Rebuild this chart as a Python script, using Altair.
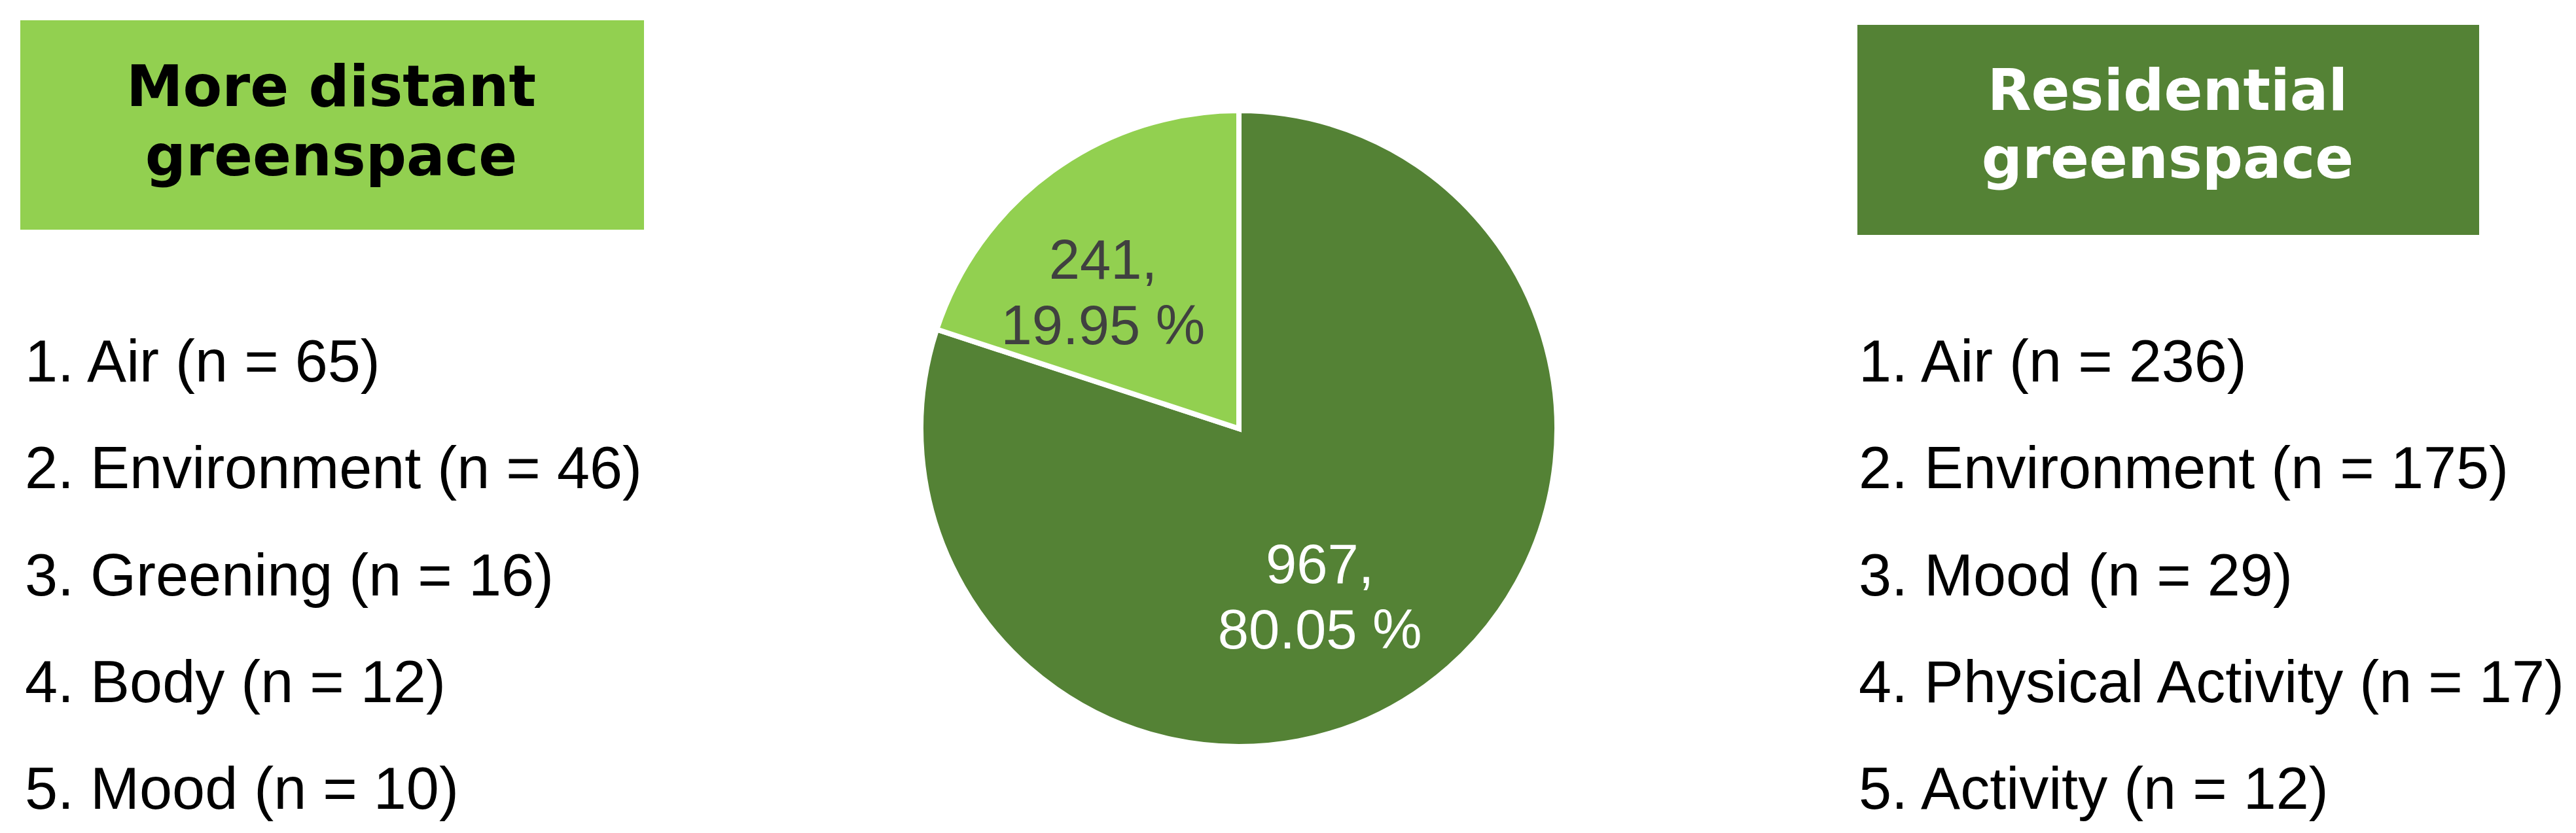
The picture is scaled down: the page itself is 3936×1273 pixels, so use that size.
import altair as alt
import pandas as pd

# ---- data ----
slice_labels = ["Residential greenspace", "More distant greenspace"]
slice_counts = [967, 241]
slice_pct = ["80.05 %", "19.95 %"]
slice_colors = ["#548235", "#92D050"]

left_title = "More distant\ngreenspace"
left_items = ["Air", "Environment", "Greening", "Body", "Mood"]
left_n = [65, 46, 16, 12, 10]

right_title = "Residential\ngreenspace"
right_items = ["Air", "Environment", "Mood", "Physical Activity", "Activity"]
right_n = [236, 175, 29, 17, 12]

# ---- tables ----
pie_df = pd.DataFrame({
    "group": slice_labels,
    "count": slice_counts,
    "pct": slice_pct,
    "idx": list(range(len(slice_labels))),
})
pie_df["label"] = [f"{c},\n{p}" for c, p in zip(slice_counts, slice_pct)]

left_df = pd.DataFrame({
    "rank": list(range(1, len(left_items) + 1)),
    "text": [f"{i}. {t} (n = {n})" for i, (t, n) in enumerate(zip(left_items, left_n), 1)],
})
right_df = pd.DataFrame({
    "rank": list(range(1, len(right_items) + 1)),
    "text": [f"{i}. {t} (n = {n})" for i, (t, n) in enumerate(zip(right_items, right_n), 1)],
})
left_title_df = pd.DataFrame({"title": [left_title]})
right_title_df = pd.DataFrame({"title": [right_title]})

W, H = 3920, 1257
CX, CY, R = 1885, 647, 486
LIST_FONT = "Liberation Sans"
TITLE_FONT = "DejaVu Sans"

color_scale = alt.Scale(domain=slice_labels, range=slice_colors)
rank_scale = alt.Scale(domain=[1, 5], range=[575, 1228])

# ---- pie ----
pie = alt.Chart(pie_df).mark_arc(radius=R, stroke="white", strokeWidth=8).encode(
    theta=alt.Theta("count:Q", stack=True),
    order=alt.Order("idx:Q"),
    color=alt.Color("group:N", scale=color_scale, legend=None),
    x=alt.value(CX),
    y=alt.value(CY),
)


def slice_label(group, radius, color, dx, dy):
    return (
        alt.Chart(pie_df)
        .transform_joinaggregate(total="sum(count)")
        .transform_window(cum="sum(count)", sort=[alt.SortField("idx")])
        .transform_calculate(mid="(datum.cum - datum.count / 2) / datum.total")
        .transform_filter(alt.datum.group == group)
        .mark_text(
            radius=radius,
            dx=dx,
            dy=dy,
            font=LIST_FONT,
            fontSize=85,
            color=color,
            align="center",
            baseline="middle",
            lineBreak="\n",
            lineHeight=100,
        )
        .encode(
            theta=alt.Theta("mid:Q", stack=None,
                            scale=alt.Scale(domain=[0, 1], range=[0, 6.283185307179586])),
            text="label:N",
            x=alt.value(CX),
            y=alt.value(CY),
        )
    )


lab_dark = slice_label(slice_labels[0], 245, "white", -20, 12)
lab_light = slice_label(slice_labels[1], 330, "#404040", -14, 12)

# ---- title boxes ----
left_box = alt.Chart(left_title_df).mark_rect(color=slice_colors[1]).encode(
    x=alt.value(23), x2=alt.value(976), y=alt.value(23), y2=alt.value(343)
)
left_title_t = alt.Chart(left_title_df).mark_text(
    font=TITLE_FONT, fontWeight="bold", fontSize=87, color="black",
    align="center", baseline="alphabetic", lineBreak="\n", lineHeight=106,
).encode(text="title:N", x=alt.value(498), y=alt.value(154))

right_box = alt.Chart(right_title_df).mark_rect(color=slice_colors[0]).encode(
    x=alt.value(2830), x2=alt.value(3780), y=alt.value(30), y2=alt.value(351)
)
right_title_t = alt.Chart(right_title_df).mark_text(
    font=TITLE_FONT, fontWeight="bold", fontSize=87, color="white",
    align="center", baseline="alphabetic", lineBreak="\n", lineHeight=104,
).encode(text="title:N", x=alt.value(3304), y=alt.value(160))

# ---- lists ----
left_list = alt.Chart(left_df).mark_text(
    font=LIST_FONT, fontSize=90, color="black", align="left", baseline="alphabetic"
).encode(
    x=alt.value(30),
    y=alt.Y("rank:Q", scale=rank_scale, axis=None),
    text="text:N",
)
right_list = alt.Chart(right_df).mark_text(
    font=LIST_FONT, fontSize=90, color="black", align="left", baseline="alphabetic"
).encode(
    x=alt.value(2832),
    y=alt.Y("rank:Q", scale=rank_scale, axis=None),
    text="text:N",
)

chart = alt.layer(
    left_box, left_title_t, right_box, right_title_t,
    pie, lab_dark, lab_light, left_list, right_list,
).resolve_scale(
    theta="independent"
).properties(
    width=W, height=H,
    autosize=alt.AutoSizeParams(type="none"),
    padding=0,
    background="white",
).configure_view(stroke=None)

chart.save("out.html", embed_options={"renderer": "svg", "actions": False})
